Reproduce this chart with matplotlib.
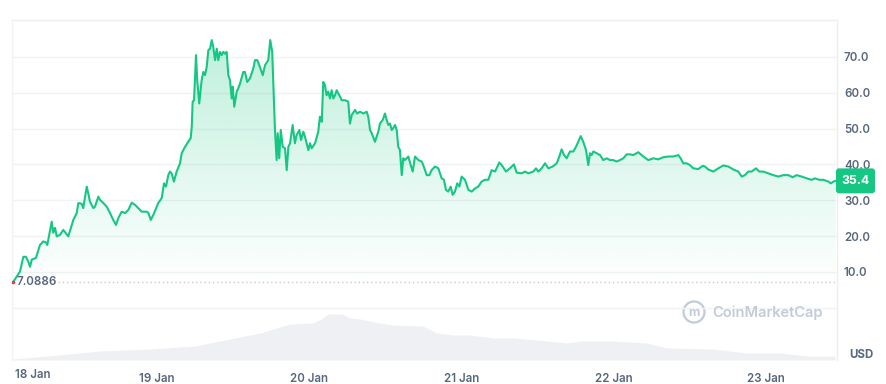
import numpy as np
import matplotlib
matplotlib.use("Agg")
import matplotlib.pyplot as plt
from matplotlib.patches import FancyBboxPatch, Circle
from matplotlib.transforms import IdentityTransform
from matplotlib.colors import to_rgb

# ---- data (days since 18 Jan 00:00, price in USD) ----
t = [0.059, 0.105, 0.127, 0.144, 0.159, 0.171, 0.182, 0.210, 0.236, 0.258, 0.276, 0.284,
     0.313, 0.323, 0.335, 0.346, 0.367, 0.389, 0.422, 0.455, 0.477, 0.488, 0.510, 0.520,
     0.543, 0.553, 0.564, 0.586, 0.597, 0.619, 0.630, 0.652, 0.674, 0.696, 0.717, 0.735,
     0.750, 0.772, 0.794, 0.816, 0.838, 0.860, 0.881, 0.904, 0.936, 0.947, 0.963, 0.980,
     1.012, 1.035, 1.050, 1.063, 1.078, 1.089, 1.100, 1.115, 1.133, 1.155, 1.166, 1.188,
     1.209, 1.225, 1.232, 1.238, 1.247, 1.260, 1.268, 1.281, 1.297, 1.308, 1.319, 1.330,
     1.341, 1.352, 1.363, 1.373, 1.385, 1.396, 1.406, 1.417, 1.428, 1.439, 1.450, 1.461,
     1.472, 1.483, 1.494, 1.501, 1.511, 1.527, 1.537, 1.549, 1.570, 1.581, 1.596, 1.614,
     1.636, 1.647, 1.662, 1.675, 1.698, 1.713, 1.734, 1.747, 1.760, 1.778, 1.789, 1.796,
     1.806, 1.816, 1.829, 1.844, 1.855, 1.866, 1.877, 1.894, 1.909, 1.920, 1.938, 1.949,
     1.964, 1.975, 1.997, 2.008, 2.019, 2.041, 2.062, 2.073, 2.085, 2.095, 2.106, 2.117,
     2.128, 2.139, 2.150, 2.161, 2.172, 2.183, 2.194, 2.205, 2.216, 2.238, 2.259, 2.270,
     2.282, 2.303, 2.318, 2.336, 2.358, 2.380, 2.390, 2.402, 2.413, 2.434, 2.456, 2.467,
     2.485, 2.500, 2.511, 2.522, 2.533, 2.544, 2.554, 2.566, 2.577, 2.587, 2.598, 2.610,
     2.620, 2.631, 2.653, 2.669, 2.682, 2.697, 2.719, 2.741, 2.751, 2.774, 2.791, 2.806,
     2.828, 2.850, 2.872, 2.887, 2.900, 2.915, 2.931, 2.944, 2.959, 2.974, 2.988, 3.003,
     3.025, 3.047, 3.069, 3.091, 3.112, 3.134, 3.156, 3.178, 3.200, 3.222, 3.250, 3.266,
     3.294, 3.320, 3.346, 3.364, 3.397, 3.419, 3.440, 3.473, 3.491, 3.506, 3.528, 3.550,
     3.572, 3.600, 3.627, 3.644, 3.659, 3.675, 3.692, 3.714, 3.736, 3.753, 3.768, 3.784,
     3.801, 3.819, 3.834, 3.845, 3.856, 3.867, 3.889, 3.911, 3.932, 3.955, 3.976, 3.998,
     4.020, 4.042, 4.064, 4.086, 4.108, 4.129, 4.162, 4.195, 4.228, 4.261, 4.293, 4.326,
     4.359, 4.392, 4.425, 4.440, 4.457, 4.480, 4.501, 4.523, 4.556, 4.585, 4.600, 4.621,
     4.654, 4.687, 4.720, 4.753, 4.785, 4.818, 4.841, 4.862, 4.884, 4.906, 4.934, 4.956,
     4.982, 5.015, 5.048, 5.081, 5.114, 5.147, 5.175, 5.201, 5.234, 5.267, 5.300, 5.322,
     5.350, 5.376, 5.409, 5.426, 5.442, 5.457]
price = [7.09, 10.1, 14.2, 14.2, 12.9, 11.4, 13.4, 13.9, 17.5, 18.5, 18.2, 17.5,
         24.0, 20.9, 22.3, 19.9, 20.3, 21.7, 19.9, 24.5, 26.4, 29.2, 29.0, 27.8,
         33.8, 31.9, 29.6, 27.8, 28.2, 31.0, 30.1, 29.2, 28.2, 26.4, 24.5, 23.1,
         25.0, 26.8, 26.4, 27.3, 29.3, 28.7, 27.8, 26.8, 26.8, 26.5, 24.5, 25.9,
         29.2, 30.6, 34.7, 33.8, 37.0, 38.0, 37.5, 35.2, 38.0, 40.3, 43.1, 44.9,
         46.3, 47.3, 50.5, 57.5, 57.9, 70.5, 63.5, 57.0, 63.5, 65.8, 64.9, 67.2,
         71.9, 72.3, 74.7, 72.8, 69.1, 72.3, 69.1, 71.4, 70.5, 71.4, 70.9, 71.4,
         64.9, 63.5, 58.4, 61.7, 56.1, 60.3, 61.2, 62.6, 65.8, 65.8, 63.0, 64.0,
         66.8, 69.1, 69.1, 67.7, 64.9, 67.7, 69.1, 74.7, 71.4, 49.6, 41.2, 48.7,
         41.7, 49.6, 44.9, 44.5, 38.4, 44.9, 45.9, 51.0, 45.9, 48.2, 49.6, 46.8,
         49.1, 47.7, 44.0, 45.9, 44.5, 45.9, 49.1, 53.3, 51.9, 63.0, 62.1, 59.3,
         60.3, 58.4, 60.7, 58.4, 59.3, 60.7, 59.8, 58.9, 57.9, 57.9, 57.5, 51.4,
         53.8, 55.2, 54.2, 54.7, 54.2, 54.7, 53.3, 49.6, 48.7, 46.3, 49.1, 51.4,
         52.4, 54.2, 52.4, 51.0, 51.4, 49.6, 50.1, 51.0, 49.6, 44.9, 44.0, 37.0,
         41.7, 41.2, 42.2, 39.8, 38.0, 42.2, 41.2, 40.8, 39.8, 37.0, 37.0, 38.4,
         39.4, 38.9, 36.1, 35.7, 32.9, 32.4, 33.8, 31.5, 32.4, 34.7, 33.8, 36.6,
         35.7, 32.9, 32.4, 33.3, 33.8, 35.2, 35.7, 35.7, 38.4, 38.0, 40.5, 39.8,
         38.0, 38.9, 40.0, 37.7, 37.5, 38.0, 37.5, 38.0, 38.9, 38.0, 38.9, 40.3,
         38.9, 39.4, 40.3, 42.2, 44.2, 42.6, 41.7, 43.6, 43.6, 44.9, 46.3, 47.9,
         46.3, 44.0, 39.8, 43.1, 42.6, 43.6, 43.1, 42.6, 41.2, 41.7, 41.2, 41.2,
         40.8, 41.2, 41.7, 42.8, 42.8, 42.6, 43.4, 42.2, 41.2, 41.7, 41.4, 42.0,
         42.2, 42.2, 42.6, 41.7, 40.3, 40.3, 39.8, 38.9, 38.7, 39.6, 39.4, 38.6,
         38.0, 38.9, 39.7, 39.4, 38.6, 38.0, 36.6, 37.0, 38.0, 38.0, 38.9, 38.0,
         38.0, 37.5, 37.0, 36.6, 37.0, 37.0, 36.4, 37.0, 36.6, 36.1, 35.7, 36.1,
         35.7, 35.7, 35.2, 34.7, 35.2, 35.4]

# volume (arbitrary units, relative)
vol_t = [0.052, 0.367, 0.630, 0.958, 1.253, 1.483, 1.680, 1.877, 2.028, 2.093, 2.126,
         2.218, 2.270, 2.336, 2.467, 2.553, 2.749, 2.841, 2.946, 3.058, 3.209, 3.340,
         3.563, 3.694, 3.780, 3.996, 4.219, 4.350, 4.652, 4.875, 5.092, 5.269, 5.453]
vol_v = [1, 5, 9, 11, 14, 21, 27, 36, 37, 42, 46, 46, 42, 41, 37, 35, 34, 27, 25, 25,
         22, 22, 19, 17, 19, 19, 17, 12, 11, 7, 7, 4, 4]

day_ticks = [1, 2, 3, 4, 5]
day_labels = ["19 Jan", "20 Jan", "21 Jan", "22 Jan", "23 Jan"]
first_label = "18 Jan"
y_ticks = [10, 20, 30, 40, 50, 60, 70]
open_price = 7.0886
last_price = 35.4

GREEN = "#16c784"
GREY = "#58667e"
GRID = "#f1f2f4"
FONT = ["Inter", "DejaVu Sans"]
PX = IdentityTransform()

W, H = 886, 384
fig = plt.figure(figsize=(W / 100, H / 100), dpi=100)
fig.patch.set_facecolor("white")

L, R, T, B = 12, 837, 20, 360
pos = [L / W, 1 - B / H, (R - L) / W, (B - T) / H]
xlim = (0.0525, 5.466)
ylim = (-14.6, 80.3)

# volume axes (behind)
vb = 308
axv = fig.add_axes([L / W, 1 - B / H, (R - L) / W, (B - vb) / H], zorder=0)
axv.fill_between(vol_t, vol_v, 0, color="#eef0f3", lw=0)
axv.set_xlim(xlim)
axv.set_ylim(0, 52)
axv.axis("off")

ax = fig.add_axes(pos, zorder=1)
ax.patch.set_alpha(0)
ax.set_xlim(xlim)
ax.set_ylim(ylim)

# grid
for yv in [0] + y_ticks:
    ax.axhline(yv, color=GRID, lw=1.0, zorder=0)

# gradient fill under price
poly = ax.fill_between(t, price, 0, facecolor="none", lw=0)
n = 256
vals = np.linspace(0, 76, n)
alpha = np.clip((vals - 6) / 70, 0, 1) * 0.28
rgb = to_rgb(GREEN)
img = np.zeros((n, 1, 4))
img[:, 0, 0], img[:, 0, 1], img[:, 0, 2] = rgb
img[:, 0, 3] = alpha
im = ax.imshow(img, extent=[xlim[0], xlim[1], 0, 76], origin="lower",
               aspect="auto", zorder=1, interpolation="bilinear")
im.set_clip_path(poly.get_paths()[0], transform=ax.transData)

ax.plot(t, price, color=GREEN, lw=1.5, zorder=3, solid_joinstyle="round")

# opening-price dotted line
ax.plot([0.33, xlim[1]], [open_price, open_price], color="#d8c3c6",
        lw=1.0, ls=(0, (1, 2)), zorder=2)
ax.text(0.085, open_price, f"{open_price}", color=GREY, fontsize=8.3,
        fontweight="semibold", family=FONT, va="center", ha="left", zorder=4)
ax.plot([t[0]], [price[0]], marker="o", ms=1.6, color="#ea3943", zorder=4)

# spines
for s in ["top", "left", "right", "bottom"]:
    ax.spines[s].set_color("#eeeeee")
    ax.spines[s].set_linewidth(1)
ax.spines["bottom"].set_visible(False)
ax.spines["left"].set_color("#f3f3f3")

# ticks
ax.yaxis.tick_right()
ax.set_yticks(y_ticks)
ax.set_yticklabels([f"{v:.1f}" for v in y_ticks])
ax.tick_params(axis="y", length=0, pad=5, labelsize=8.3, labelcolor=GREY)
ax.set_xticks(day_ticks)
ax.set_xticklabels(day_labels)
ax.tick_params(axis="x", length=0, pad=9, labelsize=8.3, labelcolor=GREY)
for lab in ax.get_xticklabels() + ax.get_yticklabels():
    lab.set_family(FONT)
    lab.set_fontweight("semibold")
ax.text(15 / W, 1 - 375 / H, first_label, transform=fig.transFigure, color=GREY,
        fontsize=8.3, fontweight="semibold", family=FONT, va="center", ha="left")

# last price badge (placed at the last price level)
fig.canvas.draw()
yb = ax.transData.transform((0, last_price))[1]
badge = FancyBboxPatch((836, yb - 12.5), 39, 25,
                       boxstyle="round,pad=0,rounding_size=3",
                       fc=GREEN, ec="none", transform=PX, zorder=10)
fig.add_artist(badge)
fig.text(855.5 / W, yb / H, f"{last_price}", color="white", fontsize=8.8,
         fontweight="bold", family=FONT, va="center", ha="center", zorder=11)

# USD label
fig.text(849 / W, 1 - 355 / H, "USD", color=GREY, fontsize=8.3, fontweight="bold",
         family=FONT, va="center", ha="left")

# watermark
wm = "#c3cad8"
fig.add_artist(Circle((694, H - 312), 10.5, transform=PX, fill=False, ec=wm, lw=1.6))
fig.text(694 / W, 1 - 312.5 / H, "m", color=wm, fontsize=9, fontweight="bold",
         family=FONT, va="center", ha="center")
fig.text(712 / W, 1 - 312.5 / H, "CoinMarketCap", color=wm, fontsize=10.5,
         fontweight="semibold", family=FONT, va="center", ha="left")

fig.savefig("out.png", dpi=100, facecolor="white")
